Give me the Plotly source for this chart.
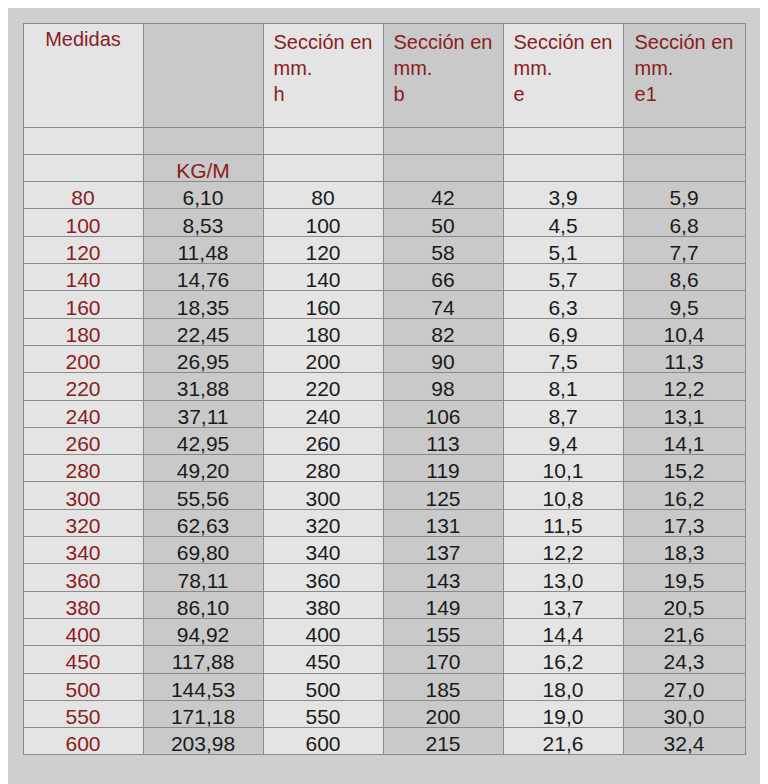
import plotly.graph_objects as go

headers = ["Medidas", "", "Sección en<br>mm.<br>h", "Sección en<br>mm.<br>b",
           "Sección en<br>mm.<br>e", "Sección en<br>mm.<br>e1"]
medidas = ["80", "100", "120", "140", "160", "180", "200", "220", "240", "260", "280",
           "300", "320", "340", "360", "380", "400", "450", "500", "550", "600"]
kg_m = ["6,10", "8,53", "11,48", "14,76", "18,35", "22,45", "26,95", "31,88", "37,11",
        "42,95", "49,20", "55,56", "62,63", "69,80", "78,11", "86,10", "94,92", "117,88",
        "144,53", "171,18", "203,98"]
h = medidas
b = ["42", "50", "58", "66", "74", "82", "90", "98", "106", "113", "119", "125", "131",
     "137", "143", "149", "155", "170", "185", "200", "215"]
e = ["3,9", "4,5", "5,1", "5,7", "6,3", "6,9", "7,5", "8,1", "8,7", "9,4", "10,1", "10,8",
     "11,5", "12,2", "13,0", "13,7", "14,4", "16,2", "18,0", "19,0", "21,6"]
e1 = ["5,9", "6,8", "7,7", "8,6", "9,5", "10,4", "11,3", "12,2", "13,1", "14,1", "15,2",
      "16,2", "17,3", "18,3", "19,5", "20,5", "21,6", "24,3", "27,0", "30,0", "32,4"]

red = "#8b1c22"
light, dark = "#e4e4e4", "#c9c9c9"
col_fill = [light, dark, light, dark, light, dark]

columns = [[""] + [""] + medidas, [""] + ["KG/M"] + kg_m, [""] * 2 + h,
           [""] * 2 + b, [""] * 2 + e, [""] * 2 + e1]
n = len(columns[0])
font_colors = [[red] * n, [red, red] + ["#1a1a1a"] * (n - 2)] + [["#1a1a1a"] * n] * 4

fig = go.Figure(go.Table(
    columnwidth=[120, 120, 120, 120, 120, 122],
    header=dict(values=headers, height=104,
                fill_color=col_fill, line_color="#8a8a8a",
                font=dict(family="Liberation Sans, Arial", size=20, color=red),
                align=["center"] * 6),
    cells=dict(values=columns, height=27.3,
               fill_color=[[c] * n for c in col_fill], line_color="#8a8a8a",
               font=dict(family="Liberation Sans, Arial", size=21, color=font_colors),
               align=["center"] * 6),
    domain=dict(x=[15 / 768, 737 / 768], y=[0, 1 - 15 / 784]),
))
fig.update_layout(width=768, height=784, margin=dict(l=0, r=0, t=0, b=0),
                  paper_bgcolor="#cfcfcf")
fig.write_html("out.html")
